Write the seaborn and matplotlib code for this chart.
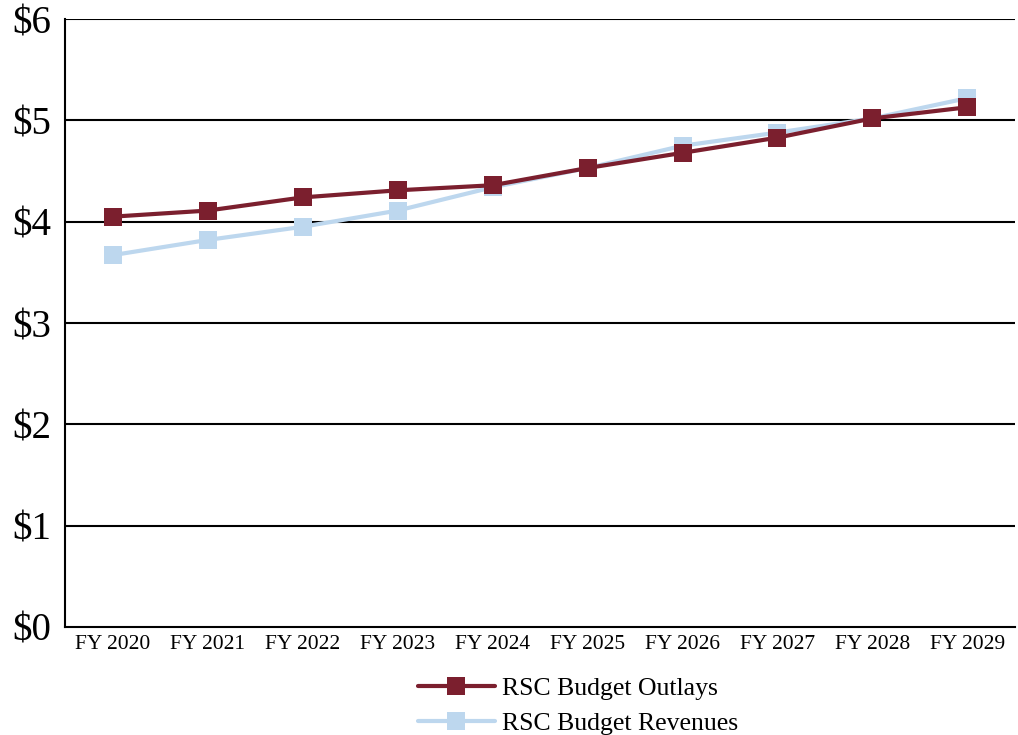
import matplotlib
matplotlib.use("Agg")
import matplotlib.pyplot as plt
import seaborn as sns
import pandas as pd

years = ["FY 2020", "FY 2021", "FY 2022", "FY 2023", "FY 2024",
         "FY 2025", "FY 2026", "FY 2027", "FY 2028", "FY 2029"]
outlays = [4.05, 4.11, 4.24, 4.31, 4.36, 4.53, 4.68, 4.83, 5.02, 5.13]
revenues = [3.67, 3.82, 3.95, 4.11, 4.34, 4.53, 4.75, 4.88, 5.02, 5.22]
y_ticks = [0, 1, 2, 3, 4, 5, 6]
y_labels = ["$0", "$1", "$2", "$3", "$4", "$5", "$6"]

sns.set_style("white")
plt.rcParams["font.family"] = ["Liberation Serif", "DejaVu Serif"]
plt.rcParams["text.color"] = "black"
plt.rcParams["xtick.color"] = "black"
plt.rcParams["ytick.color"] = "black"

df_out = pd.DataFrame({"x": range(len(years)), "y": outlays})
df_rev = pd.DataFrame({"x": range(len(years)), "y": revenues})

fig = plt.figure(figsize=(10.18, 7.35), dpi=100)
ax = fig.add_axes([0.064, 0.147, 0.933, 0.827])

c_out = "#7B1F2E"
c_rev = "#BDD7EE"

sns.lineplot(data=df_rev, x="x", y="y", ax=ax, color=c_rev, linewidth=3,
             marker="s", markersize=13, markeredgewidth=0, label="RSC Budget Revenues", zorder=3)
sns.lineplot(data=df_out, x="x", y="y", ax=ax, color=c_out, linewidth=3,
             marker="s", markersize=13, markeredgewidth=0, label="RSC Budget Outlays", zorder=4)

ax.set_xlim(-0.5, len(years) - 0.5)
ax.set_ylim(0, 6)
ax.set_yticks(y_ticks)
ax.set_yticklabels(y_labels, fontsize=28, color="black")
ax.set_xticks(range(len(years)))
ax.set_xticklabels(years, fontsize=15.5, color="black")
ax.tick_params(axis="both", length=0, pad=6)
ax.tick_params(axis="y", pad=10)
ax.set_xlabel("")
ax.set_ylabel("")
for yv in y_ticks[1:]:
    ax.axhline(yv, color="black", linewidth=1.5, zorder=1)
for s in ["top", "right"]:
    ax.spines[s].set_visible(False)
ax.spines["left"].set_color("black")
ax.spines["left"].set_linewidth(1.5)
ax.spines["bottom"].set_color("black")
ax.spines["bottom"].set_linewidth(1.5)

handles, labels = ax.get_legend_handles_labels()
order = [1, 0]
leg = ax.legend([handles[i] for i in order], [labels[i] for i in order],
                loc="upper center", bbox_to_anchor=(0.54, -0.045), ncol=1, frameon=False,
                fontsize=18.5, handlelength=3.0, labelspacing=0.45, handletextpad=0.3)
for t in leg.get_texts():
    t.set_color("black")

fig.savefig("out.png", dpi=100)
